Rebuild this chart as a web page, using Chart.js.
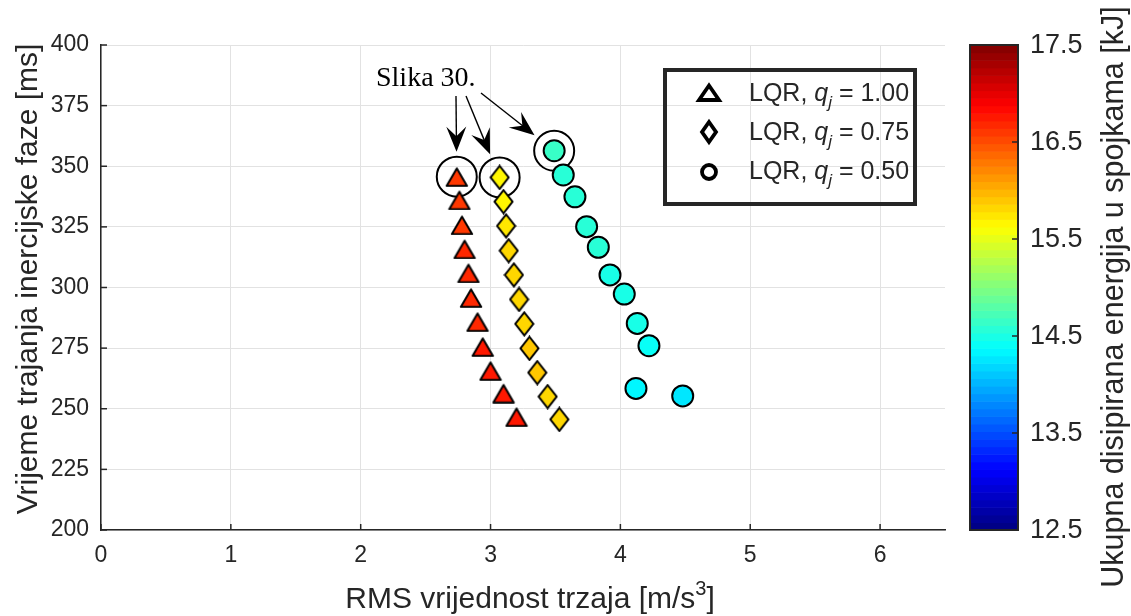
<!DOCTYPE html>
<html><head><meta charset="utf-8">
<script src="https://cdn.jsdelivr.net/npm/chart.js@4.4.1/dist/chart.umd.min.js"></script>
<style>html,body{margin:0;padding:0;background:#fff}canvas{display:block}</style>
</head><body>
<canvas id="c" width="1131" height="616"></canvas>
<script>
// ---------- data ----------
const cbMin = 12.5, cbMax = 17.5;
const xTickValues = [0, 1, 2, 3, 4, 5, 6];
const yTickValues = [200, 225, 250, 275, 300, 325, 350, 375, 400];
const cbTickValues = [12.5, 13.5, 14.5, 15.5, 16.5, 17.5];
const seriesQ = ['1.00', '0.75', '0.50'];
const annotationText = 'Slika 30.';
const xTitle = 'RMS vrijednost trzaja [m/s';
const xTitleSup = '3';
const yTitle = 'Vrijeme trajanja inercijske faze [ms]';
const cbTitle = 'Ukupna disipirana energija u spojkama [kJ]';

const rmsTri = [2.74, 2.76, 2.78, 2.80, 2.83, 2.85, 2.90, 2.94, 3.00, 3.10, 3.20];
const timeTri = [345.7, 336.1, 325.8, 315.9, 306.0, 295.8, 285.9, 275.6, 265.7, 256.4, 246.7];
const energyTri = [16.60, 16.62, 16.64, 16.66, 16.68, 16.70, 16.70, 16.72, 16.72, 16.75, 16.75];

const rmsDia = [3.07, 3.10, 3.12, 3.14, 3.18, 3.22, 3.26, 3.30, 3.36, 3.44, 3.53];
const timeDia = [345.4, 335.4, 325.4, 315.2, 305.2, 295.1, 285.0, 274.9, 264.9, 255.0, 245.6];
const energyDia = [15.66, 15.68, 15.74, 15.80, 15.80, 15.82, 15.85, 15.87, 15.87, 15.82, 15.80];

const rmsCir = [3.49, 3.56, 3.65, 3.74, 3.83, 3.92, 4.03, 4.13, 4.22, 4.12, 4.48];
const timeCir = [356.4, 346.4, 337.4, 325.1, 316.6, 305.2, 297.3, 285.2, 276.0, 258.4, 255.3];
const energyCir = [14.62, 14.60, 14.57, 14.57, 14.55, 14.52, 14.50, 14.48, 14.45, 14.30, 14.28];

// ---------- helpers ----------
const F = "'Liberation Sans', Arial, sans-serif";
const TXT = '#262626';
function jetIdx(v){ let t=(v-cbMin)/(cbMax-cbMin); t=Math.max(0,Math.min(1,t)); return Math.min(63,Math.floor(t*64)); }
function jetColorIdx(i){
  const u=(i+0.5)/64, c=x=>Math.max(0,Math.min(1,x));
  const r=c(1.5-Math.abs(4*u-3)), g=c(1.5-Math.abs(4*u-2)), b=c(1.5-Math.abs(4*u-1));
  return `rgb(${Math.round(r*255)},${Math.round(g*255)},${Math.round(b*255)})`;
}
const jet = v => jetColorIdx(jetIdx(v));

function triCanvas(fill){
  const w=24,h=21,cv=document.createElement('canvas'); cv.width=w; cv.height=h;
  const x=cv.getContext('2d'); x.beginPath(); x.moveTo(w/2,2.2); x.lineTo(w-1.8,h-1.2); x.lineTo(1.8,h-1.2); x.closePath();
  x.fillStyle=fill; x.fill(); x.lineWidth=2; x.strokeStyle='#000'; x.lineJoin='round'; x.stroke(); return cv;
}
function diaCanvas(fill){
  const w=21,h=26,cv=document.createElement('canvas'); cv.width=w; cv.height=h;
  const x=cv.getContext('2d'); x.beginPath(); x.moveTo(w/2,1.5); x.lineTo(w-1.5,h/2); x.lineTo(w/2,h-1.5); x.lineTo(1.5,h/2); x.closePath();
  x.fillStyle=fill; x.fill(); x.lineWidth=2; x.strokeStyle='#000'; x.lineJoin='miter'; x.stroke(); return cv;
}
const pts = (xs, ys) => xs.map((x,i)=>({x, y: ys[i]}));

// ---------- custom drawing plugin ----------
const deco = {
  id: 'deco',
  beforeDatasetsDraw(chart){
    const {ctx, scales:{x, y}, chartArea:a} = chart;
    ctx.save();
    ctx.strokeStyle=TXT; ctx.lineWidth=1.5;
    xTickValues.forEach(v=>{ const px=x.getPixelForValue(v); ctx.beginPath(); ctx.moveTo(px,a.bottom); ctx.lineTo(px,a.bottom-6); ctx.stroke(); });
    yTickValues.forEach(v=>{ const py=y.getPixelForValue(v); ctx.beginPath(); ctx.moveTo(a.left,py); ctx.lineTo(a.left+6,py); ctx.stroke(); });
    const firsts = [[rmsTri[0],timeTri[0]],[rmsDia[0],timeDia[0]],[rmsCir[0],timeCir[0]]];
    const tails = [[456,96],[466,96],[481,93]];
    ctx.strokeStyle='#000'; ctx.fillStyle='#000';
    firsts.forEach((p,k)=>{
      const px=x.getPixelForValue(p[0]), py=y.getPixelForValue(p[1]);
      ctx.lineWidth=2; ctx.beginPath(); ctx.arc(px,py,20,0,Math.PI*2); ctx.stroke();
      const [tx,ty]=tails[k]; let dx=px-tx, dy=py-ty; const L=Math.hypot(dx,dy); dx/=L; dy/=L;
      const tipX=px-dx*25, tipY=py-dy*25;
      const HL=25, HW=10, nx=-dy, ny=dx;
      ctx.lineWidth=1.4; ctx.beginPath(); ctx.moveTo(tx,ty); ctx.lineTo(tipX-dx*14, tipY-dy*14); ctx.stroke();
      ctx.beginPath(); ctx.moveTo(tipX,tipY);
      ctx.lineTo(tipX-dx*HL+nx*HW, tipY-dy*HL+ny*HW);
      ctx.lineTo(tipX-dx*HL*0.62, tipY-dy*HL*0.62);
      ctx.lineTo(tipX-dx*HL-nx*HW, tipY-dy*HL-ny*HW);
      ctx.closePath(); ctx.fill();
    });
    ctx.font = "28px 'Liberation Serif', 'Times New Roman', serif";
    ctx.textAlign='left'; ctx.textBaseline='alphabetic'; ctx.fillStyle='#000';
    ctx.fillText(annotationText, 376, 86);
    ctx.restore();
  },
  afterDraw(chart){
    const {ctx, scales:{cb}} = chart;
    ctx.save();
    // legend
    ctx.strokeStyle=TXT; ctx.lineWidth=4; ctx.strokeRect(665,70,250,134);
    const rowsBase=[101,140,179], mx=709;
    rowsBase.forEach((b,k)=>{
      const cy=b-8; ctx.strokeStyle='#000'; ctx.lineWidth=3.8; ctx.lineJoin='miter'; ctx.beginPath();
      if(k===0){ ctx.moveTo(mx,cy-7.5); ctx.lineTo(mx+10,cy+7); ctx.lineTo(mx-10,cy+7); ctx.closePath(); }
      else if(k===1){ ctx.moveTo(mx,cy-10); ctx.lineTo(mx+7,cy); ctx.lineTo(mx,cy+10); ctx.lineTo(mx-7,cy); ctx.closePath(); }
      else { ctx.arc(mx,cy+1,7,0,Math.PI*2); }
      ctx.stroke();
      ctx.fillStyle=TXT; ctx.textAlign='left'; ctx.textBaseline='alphabetic';
      let tx=749;
      ctx.font=`25px ${F}`; ctx.fillText('LQR, ',tx,b); tx+=ctx.measureText('LQR, ').width;
      ctx.font=`italic 25px ${F}`; ctx.fillText('q',tx,b); tx+=ctx.measureText('q').width;
      ctx.font=`italic 17px ${F}`; ctx.fillText('j',tx,b+7); tx+=ctx.measureText('j').width;
      ctx.font=`25px ${F}`; ctx.fillText(' = '+seriesQ[k],tx,b);
    });
    // colorbar
    const bx0=970, bx1=1018;
    for(let i=0;i<64;i++){
      const v0=cbMin+(cbMax-cbMin)*i/64, v1=cbMin+(cbMax-cbMin)*(i+1)/64;
      const y0=cb.getPixelForValue(v0), y1=cb.getPixelForValue(v1);
      ctx.fillStyle=jetColorIdx(i); ctx.fillRect(bx0, y1, bx1-bx0, y0-y1+0.6);
    }
    const yt=cb.getPixelForValue(cbMax), yb=cb.getPixelForValue(cbMin);
    ctx.strokeStyle=TXT; ctx.lineWidth=2; ctx.strokeRect(bx0,yt,bx1-bx0,yb-yt);
    ctx.lineWidth=1.5;
    ctx.font=`27px ${F}`; ctx.fillStyle=TXT; ctx.textAlign='left'; ctx.textBaseline='middle';
    cbTickValues.forEach(v=>{
      const py=cb.getPixelForValue(v);
      ctx.beginPath(); ctx.moveTo(bx1,py); ctx.lineTo(bx1-6,py); ctx.stroke();
      ctx.fillText(v.toFixed(1),1030,py+1);
    });
    ctx.save(); ctx.translate(1123,297); ctx.rotate(-Math.PI/2);
    ctx.font=`30.5px ${F}`; ctx.textAlign='center'; ctx.textBaseline='alphabetic'; ctx.fillText(cbTitle,0,0); ctx.restore();
    ctx.save(); ctx.translate(37,279); ctx.rotate(-Math.PI/2);
    ctx.font=`30px ${F}`; ctx.textAlign='center'; ctx.textBaseline='alphabetic'; ctx.fillText(yTitle,0,0); ctx.restore();
    ctx.textAlign='left'; ctx.textBaseline='alphabetic';
    ctx.font=`30px ${F}`; const wa=ctx.measureText(xTitle).width, wc=ctx.measureText(']').width;
    ctx.font=`20px ${F}`; const wb=ctx.measureText(xTitleSup).width;
    let x0=530-(wa+wb+wc)/2;
    ctx.font=`30px ${F}`; ctx.fillText(xTitle,x0,608); x0+=wa;
    ctx.font=`20px ${F}`; ctx.fillText(xTitleSup,x0,595); x0+=wb;
    ctx.font=`30px ${F}`; ctx.fillText(']',x0,608);
    ctx.restore();
  }
};

const common = { showLine:false, pointBorderColor:'#000', pointBorderWidth:2, pointHoverRadius:11 };
new Chart(document.getElementById('c'), {
  type:'scatter',
  data:{ datasets:[
    Object.assign({label:'LQR, q_j = '+seriesQ[0], data:pts(rmsTri,timeTri), pointStyle:energyTri.map(e=>triCanvas(jet(e))), pointRadius:11}, common),
    Object.assign({label:'LQR, q_j = '+seriesQ[1], data:pts(rmsDia,timeDia), pointStyle:energyDia.map(e=>diaCanvas(jet(e))), pointRadius:11}, common),
    Object.assign({label:'LQR, q_j = '+seriesQ[2], data:pts(rmsCir,timeCir), pointStyle:'circle', pointRadius:10.5, pointBackgroundColor:energyCir.map(jet)}, common)
  ]},
  options:{
    responsive:false, animation:false, devicePixelRatio:1, events:[],
    layout:{ padding:{ left:0, right:186, top:45, bottom:0 } },
    plugins:{ legend:{display:false}, tooltip:{enabled:false} },
    scales:{
      x:{ type:'linear', min:0, max:6.5,
          afterBuildTicks:s=>{ s.ticks = xTickValues.map(v=>({value:v})); },
          afterFit:s=>{ s.height = 86; },
          grid:{ color:'#e2e2e2', lineWidth:1, drawTicks:false },
          border:{ color:TXT, width:1.5 },
          ticks:{ color:TXT, font:{family:F, size:23}, padding:12, maxRotation:0, callback:v=>String(v) } },
      y:{ type:'linear', min:200, max:400,
          afterBuildTicks:s=>{ s.ticks = yTickValues.map(v=>({value:v})); },
          afterFit:s=>{ s.width = 101; },
          grid:{ color:'#e2e2e2', lineWidth:1, drawTicks:false },
          border:{ color:TXT, width:1.5 },
          ticks:{ color:TXT, font:{family:F, size:23}, padding:12, callback:v=>String(v) } },
      cb:{ type:'linear', display:false, position:'right', min:cbMin, max:cbMax }
    }
  },
  plugins:[deco]
});
</script>
</body></html>
